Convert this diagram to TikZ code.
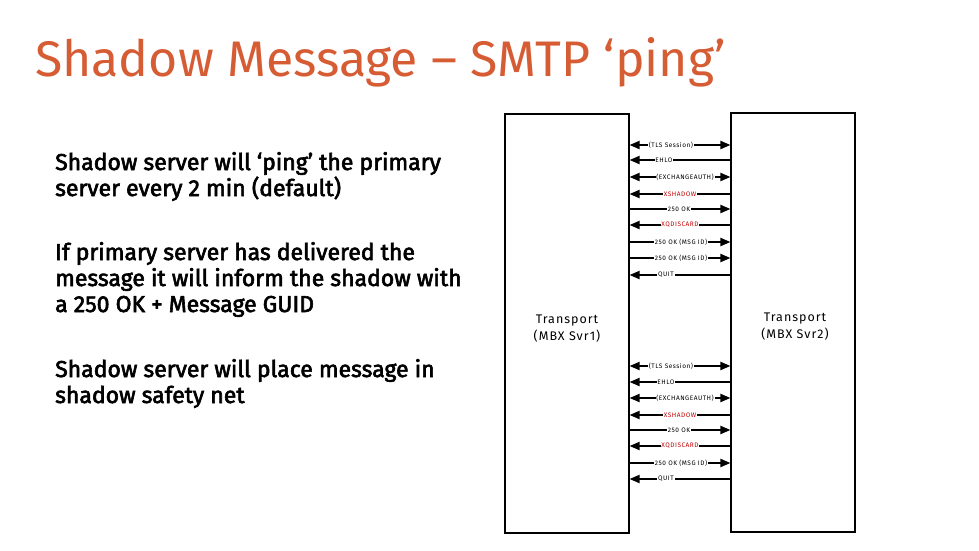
\documentclass[tikz,border=0pt]{standalone}
\usepackage{fontspec}
\setmainfont{Fira Sans}
\newfontfamily\titlefont{Fira Sans}
\newfontfamily\bodyfont{Fira Sans}[FakeBold=2.6]
\newfontfamily\msgfont{Fira Sans}[LetterSpace=8]
\usetikzlibrary{arrows.meta,positioning}

\definecolor{titleorange}{RGB}{214,92,52}
\definecolor{cmdred}{RGB}{192,0,0}

\tikzset{
  srvbox/.style={draw,line width=1.1pt,minimum width=124pt,inner sep=0pt},
  srvlabel/.style={align=center,font=\fontsize{12.5}{17}\selectfont\msgfont},
  msg/.style={line width=1.9pt},
  both/.style={msg,{Triangle[length=10pt,width=8pt]}-{Triangle[length=10pt,width=8pt]}},
  toleft/.style={msg,{Triangle[length=10pt,width=8pt]}-},
  toright/.style={msg,-{Triangle[length=10pt,width=8pt]}},
  lbl/.style={fill=white,inner sep=0.8pt,font=\fontsize{6.5}{7}\selectfont\msgfont},
  redlbl/.style={lbl,text=cmdred},
  para/.style={anchor=base west,align=left,inner sep=0pt,font=\fontsize{23}{26}\selectfont\bodyfont}
}

\begin{document}
\begin{tikzpicture}[x=1pt,y=-1pt]
  \useasboundingbox (0,0) rectangle (979,551);

  % title and notes (base = last line)
  \node[anchor=base west,inner sep=0pt,text=titleorange,font=\fontsize{50}{52}\selectfont\titlefont] (title) at (35,76) {Shadow Message – SMTP ‘ping’};
  \node[para] (noteping) at (55,196) {Shadow server will ‘ping’ the primary\\server every 2 min (default)};
  \node[para] (noteok) at (55,312) {If primary server has delivered the\\message it will inform the shadow with\\a 250 OK + Message GUID};
  \node[para] (notenet) at (55,403) {Shadow server will place message in\\shadow safety net};

  % the two transport servers
  \node[srvbox,minimum height=419pt] (mbxone) at (567,323.5) {};
  \node[srvbox,minimum height=419pt] (mbxtwo) at (793,322.5) {};
  \node[srvlabel] (mbxonelbl) at (567,329) {Transport\\(MBX Svr1)};
  \node[srvlabel] (mbxtwolbl) at (795,327) {Transport\\(MBX Svr2)};

  % first session
  \draw[both] (mbxone.east |- 0,145) -- node[lbl,pos=.41] {(TLS Session)} (mbxtwo.west |- 0,145);
  \draw[toleft] (mbxone.east |- 0,160) -- node[lbl,pos=.34] {EHLO} (mbxtwo.west |- 0,160);
  \draw[both] (mbxone.east |- 0,177) -- node[lbl,pos=.55] {(EXCHANGEAUTH)} (mbxtwo.west |- 0,177);
  \draw[toleft] (mbxone.east |- 0,194) -- node[redlbl,pos=.5] {XSHADOW} (mbxtwo.west |- 0,194);
  \draw[toright] (mbxone.east |- 0,209) -- node[lbl,pos=.49] {250 OK} (mbxtwo.west |- 0,209);
  \draw[toleft] (mbxone.east |- 0,225) -- node[redlbl,pos=.5] {XQDISCARD} (mbxtwo.west |- 0,225);
  \draw[toright] (mbxone.east |- 0,242) -- node[lbl,pos=.51] {250 OK (MSG ID)} (mbxtwo.west |- 0,242);
  \draw[toright] (mbxone.east |- 0,258) -- node[lbl,pos=.51] {250 OK (MSG ID)} (mbxtwo.west |- 0,258);
  \draw[toleft] (mbxone.east |- 0,275) -- node[lbl,pos=.36] {QUIT} (mbxtwo.west |- 0,275);

  % second session
  \draw[both] (mbxone.east |- 0,366) -- node[lbl,pos=.41] {(TLS Session)} (mbxtwo.west |- 0,366);
  \draw[toleft] (mbxone.east |- 0,382) -- node[lbl,pos=.36] {EHLO} (mbxtwo.west |- 0,382);
  \draw[both] (mbxone.east |- 0,398) -- node[lbl,pos=.55] {(EXCHANGEAUTH)} (mbxtwo.west |- 0,398);
  \draw[toleft] (mbxone.east |- 0,415) -- node[redlbl,pos=.5] {XSHADOW} (mbxtwo.west |- 0,415);
  \draw[toright] (mbxone.east |- 0,430) -- node[lbl,pos=.49] {250 OK} (mbxtwo.west |- 0,430);
  \draw[toleft] (mbxone.east |- 0,446) -- node[redlbl,pos=.5] {XQDISCARD} (mbxtwo.west |- 0,446);
  \draw[toright] (mbxone.east |- 0,463) -- node[lbl,pos=.51] {250 OK (MSG ID)} (mbxtwo.west |- 0,463);
  \draw[toleft] (mbxone.east |- 0,479) -- node[lbl,pos=.36] {QUIT} (mbxtwo.west |- 0,479);
\end{tikzpicture}
\end{document}
